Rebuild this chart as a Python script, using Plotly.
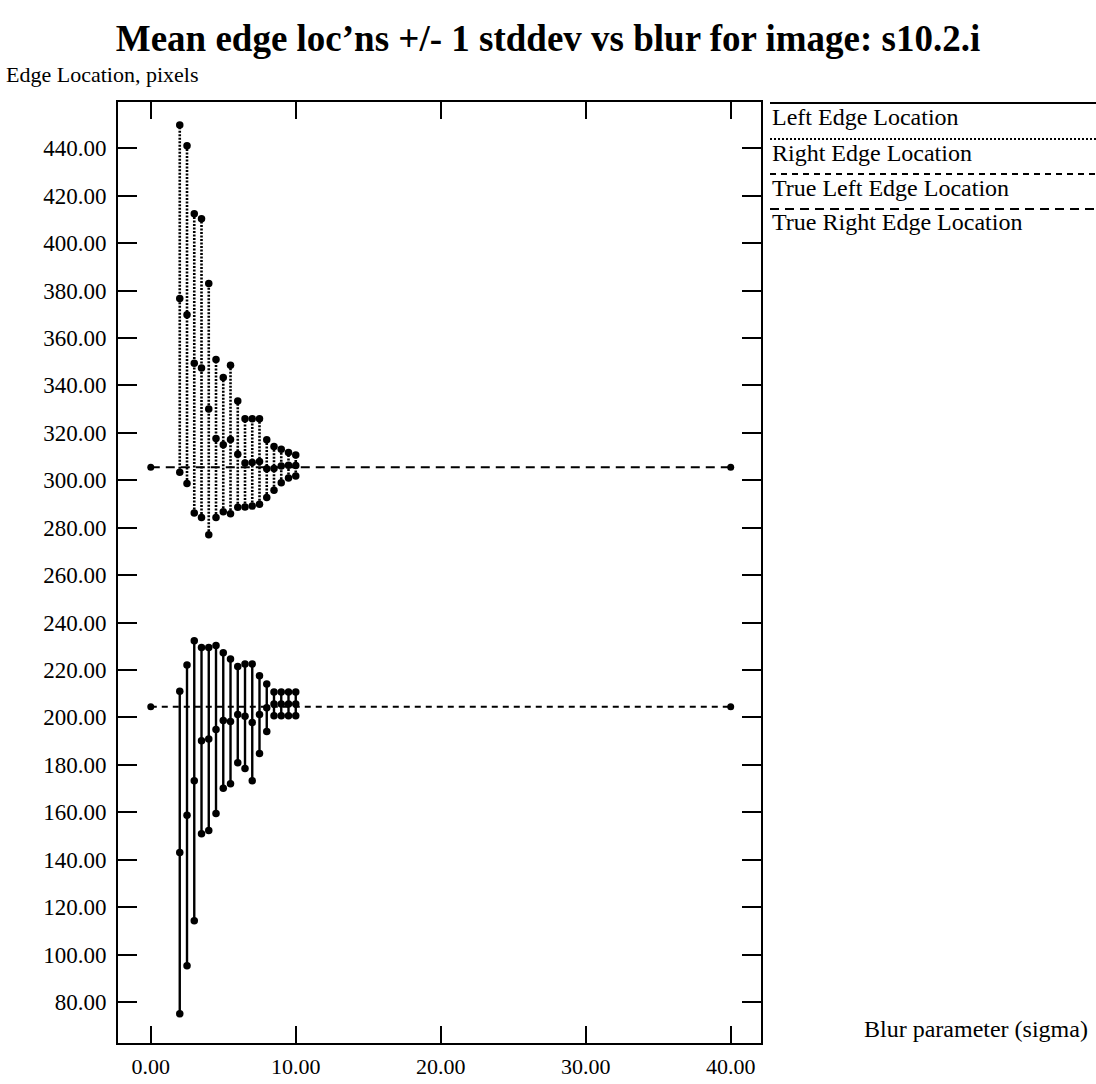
import plotly.graph_objects as go

# Blur sigma values for the measured runs
sigma = [2.0, 2.5, 3.0, 3.5, 4.0, 4.5, 5.0, 5.5, 6.0, 6.5, 7.0, 7.5, 8.0, 8.5, 9.0, 9.5, 10.0]

# Left edge: mean location and standard deviation
left_mean = [143.0, 158.7, 173.3, 190.2, 190.9, 194.9, 198.7, 198.3, 201.2, 200.5,
             197.9, 201.2, 204.1, 205.7, 205.7, 205.7, 205.7]
left_sd = [68.0, 63.4, 59.0, 39.3, 38.6, 35.4, 28.6, 26.3, 20.3, 22.0,
           24.6, 16.4, 10.0, 5.0, 5.0, 5.0, 5.0]

# Right edge: mean location and standard deviation
right_mean = [376.6, 369.8, 349.3, 347.3, 330.0, 317.6, 315.0, 317.2, 311.0, 307.3,
              307.5, 307.9, 304.9, 305.0, 306.0, 306.3, 306.2]
right_sd = [73.2, 71.2, 63.1, 63.0, 53.0, 33.3, 28.3, 31.3, 22.4, 18.6,
            18.4, 18.0, 12.2, 9.2, 7.1, 5.4, 4.4]

# True edge positions, drawn across the blur range
true_x = [0.0, 40.0]
true_left = [204.5, 204.5]
true_right = [305.5, 305.5]

x_ticks = [0, 10, 20, 30, 40]
y_ticks = list(range(80, 441, 20))

legend_names = ["Left Edge Location", "Right Edge Location",
                "True Left Edge Location", "True Right Edge Location"]

FONT = "Liberation Serif, Times New Roman, serif"

# Page geometry (pixels)
W, H = 1096, 1084
L, R, T, B = 118, 761, 102, 1043


def px(xp):
    return (xp - L) / (R - L)


def py(yp):
    return (B - yp) / (B - T)


def bar_coords(xs, means, sds):
    bx, by = [], []
    for xv, m, s in zip(xs, means, sds):
        bx += [xv, xv, xv, None]
        by += [m - s, m, m + s, None]
    return bx, by


fig = go.Figure()

lx, ly = bar_coords(sigma, left_mean, left_sd)
fig.add_trace(go.Scatter(x=lx, y=ly, mode="lines+markers",
                         line=dict(color="black", width=2.4, dash="solid"),
                         marker=dict(color="black", size=7.5),
                         name=legend_names[0], showlegend=False))

rx, ry = bar_coords(sigma, right_mean, right_sd)
fig.add_trace(go.Scatter(x=rx, y=ry, mode="lines+markers",
                         line=dict(color="black", width=2.6, dash="2px,1.5px"),
                         marker=dict(color="black", size=7.5),
                         name=legend_names[1], showlegend=False))

fig.add_trace(go.Scatter(x=true_x, y=true_left, mode="lines+markers",
                         line=dict(color="black", width=2, dash="6px,5px"),
                         marker=dict(color="black", size=7),
                         name=legend_names[2], showlegend=False))

fig.add_trace(go.Scatter(x=true_x, y=true_right, mode="lines+markers",
                         line=dict(color="black", width=2, dash="9px,6px"),
                         marker=dict(color="black", size=7),
                         name=legend_names[3], showlegend=False))

# Legend drawn as lines with labels underneath
leg_line_y = [103, 139, 174, 209]
leg_text_y = [117, 153, 188, 222]
leg_dash_px = ["solid", "2px,2px", "6px,5px", "9px,6px"]
for name, dash, ly_, ty in zip(legend_names, leg_dash_px, leg_line_y, leg_text_y):
    fig.add_shape(type="line", xref="paper", yref="paper",
                  x0=px(770), x1=px(1096), y0=py(ly_), y1=py(ly_),
                  line=dict(color="black", width=2, dash=dash))
    fig.add_annotation(text=name, xref="paper", yref="paper",
                       x=px(770), y=py(ty), xanchor="left", yanchor="middle",
                       showarrow=False, font=dict(family=FONT, size=24, color="black"))

fig.add_annotation(text="Edge Location, pixels", xref="paper", yref="paper",
                   x=px(4), y=py(75), xanchor="left", yanchor="middle",
                   showarrow=False, font=dict(family=FONT, size=22, color="black"))
fig.add_annotation(text="Blur parameter (sigma)", xref="paper", yref="paper",
                   x=px(1090), y=py(1029), xanchor="right", yanchor="middle",
                   showarrow=False, font=dict(family=FONT, size=24, color="black"))

fig.update_layout(
    width=W, height=H,
    margin=dict(l=L, r=W - R, t=T, b=H - B, autoexpand=False),
    paper_bgcolor="white", plot_bgcolor="white",
    font=dict(family=FONT, size=23, color="black"),
    title=dict(text="<b>Mean edge loc’ns +/- 1 stddev vs blur for image: s10.2.i</b>",
               x=(548 - L) / (R - L), xref="paper", xanchor="center",
               y=1 - 38 / H, yanchor="middle",
               font=dict(family=FONT, size=37, color="black")),
    showlegend=False,
)

fig.update_xaxes(range=[-2.26, 42.09], tickvals=x_ticks, tickformat=".2f",
                 ticks="inside", ticklen=17, tickwidth=1.5, tickcolor="black",
                 showline=True, linecolor="black", linewidth=2, mirror="allticks",
                 showgrid=False, zeroline=False, automargin=False,
                 ticklabelstandoff=3,
                 tickfont=dict(family=FONT, size=22, color="black"))
fig.update_yaxes(range=[62.7, 459.5], tickvals=y_ticks, tickformat=".2f",
                 ticks="inside", ticklen=19, tickwidth=1.5, tickcolor="black",
                 showline=True, linecolor="black", linewidth=2, mirror="allticks",
                 showgrid=False, zeroline=False, automargin=False,
                 ticklabelstandoff=5,
                 tickfont=dict(family=FONT, size=23, color="black"))

fig.write_html("out.html")
